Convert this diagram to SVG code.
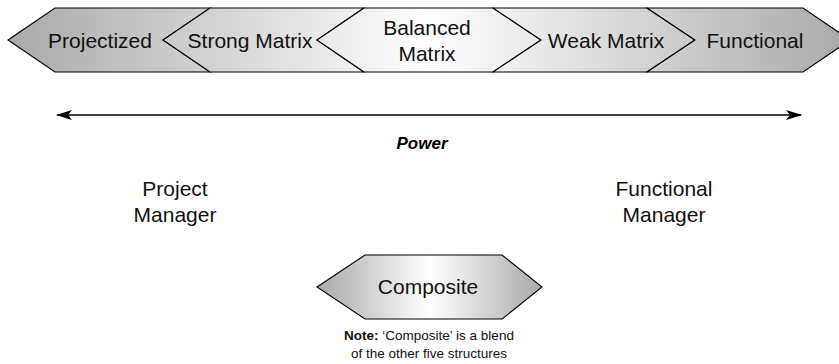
<svg xmlns="http://www.w3.org/2000/svg" width="839" height="364" viewBox="0 0 839 364">
<style>
.seg{fill:url(#band);stroke:#000;stroke-width:1.1;stroke-linejoin:miter}
.lbl{font-family:"Liberation Sans",Arial,sans-serif;font-size:21px;fill:#111;text-anchor:middle}
.pow{font-family:"Liberation Sans",Arial,sans-serif;font-size:17px;font-weight:bold;font-style:italic;fill:#000;text-anchor:middle}
.note{font-family:"Liberation Sans",Arial,sans-serif;font-size:13.5px;fill:#111;text-anchor:middle}
</style>
<defs>
<linearGradient id="band" gradientUnits="userSpaceOnUse" x1="8" y1="0" x2="850" y2="0">
<stop offset="0" stop-color="#a9a9a9"/>
<stop offset="0.5" stop-color="#ffffff"/>
<stop offset="1" stop-color="#a9a9a9"/>
</linearGradient>
<linearGradient id="comp" gradientUnits="userSpaceOnUse" x1="317" y1="0" x2="542" y2="0">
<stop offset="0" stop-color="#a9a9a9"/>
<stop offset="0.5" stop-color="#ffffff"/>
<stop offset="1" stop-color="#a9a9a9"/>
</linearGradient>
<marker id="ah" viewBox="0 0 16 10" refX="15" refY="5" markerWidth="16" markerHeight="10" markerUnits="userSpaceOnUse" orient="auto-start-reverse">
<path d="M0,0 L16,5 L0,10 L4,5 Z" fill="#000"/>
</marker>
</defs>

<g id="projectized">
<polygon class="seg" points="8,40 55,8 210,8 163,40 210,72 55,72"/>
<text class="lbl" x="100" y="48">Projectized</text>
</g>
<g id="strong-matrix">
<polygon class="seg" points="163,40 210,8 364,8 317,40 364,72 210,72"/>
<text class="lbl" x="250" y="48">Strong Matrix</text>
</g>
<g id="balanced-matrix">
<polygon class="seg" points="317,40 364,8 493,8 541,40 493,72 364,72"/>
<text class="lbl" x="427" y="35">Balanced</text>
<text class="lbl" x="427" y="61">Matrix</text>
</g>
<g id="weak-matrix">
<polygon class="seg" points="493,8 647,8 695,40 647,72 493,72 541,40"/>
<text class="lbl" x="606" y="48">Weak Matrix</text>
</g>
<g id="functional">
<polygon class="seg" points="647,8 803,8 850,40 803,72 647,72 695,40"/>
<text class="lbl" x="755" y="48">Functional</text>
</g>

<g id="connectors">
<line x1="57" y1="115" x2="801" y2="115" stroke="#000" stroke-width="1.4" marker-start="url(#ah)" marker-end="url(#ah)"/>
</g>

<g id="power">
<text class="pow" x="422" y="149">Power</text>
</g>
<g id="project-manager">
<text class="lbl" x="175" y="196">Project</text>
<text class="lbl" x="175" y="222">Manager</text>
</g>
<g id="functional-manager">
<text class="lbl" x="664" y="196">Functional</text>
<text class="lbl" x="664" y="222">Manager</text>
</g>
<g id="composite">
<polygon points="317,287 365,255 502,255 542,287 502,319 365,319" fill="url(#comp)" stroke="#000" stroke-width="1.1"/>
<text class="lbl" x="428" y="294">Composite</text>
</g>
<g id="note">
<text class="note" x="429" y="340"><tspan font-weight="bold">Note:</tspan> ‘Composite’ is a blend</text>
<text class="note" x="429" y="358">of the other five structures</text>
</g>
</svg>
